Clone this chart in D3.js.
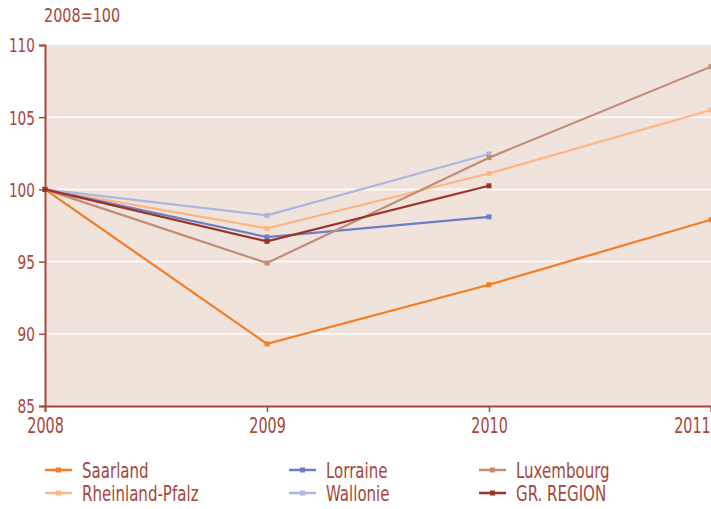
<!DOCTYPE html>
<html>
<head>
<meta charset="utf-8">
<script src="https://cdn.jsdelivr.net/npm/d3@7"></script>
<style>
  body { margin: 0; background: #fff; }
  svg text { font-family: "Liberation Sans Narrow", "DejaVu Sans Condensed", "Roboto Condensed", sans-serif; fill: #a5473b; }
</style>
</head>
<body>
<div id="chart"></div>
<script>
// data (index, 2008 = 100)
const years = [2008, 2009, 2010, 2011];
const yTicks = [85, 90, 95, 100, 105, 110];
const saarland = [100, 89.3, 93.4, 97.9];
const rheinlandPfalz = [100, 97.3, 101.1, 105.5];
const lorraine = [100, 96.7, 98.1];
const wallonie = [100, 98.2, 102.45];
const luxembourg = [100, 94.9, 102.2, 108.5];
const grRegion = [100, 96.4, 100.25];

// series in draw order
const series = [
    { name: "Saarland", values: saarland, color: "#f47c22" },
    { name: "Rheinland-Pfalz", values: rheinlandPfalz, color: "#fbb684" },
    { name: "Lorraine", values: lorraine, color: "#6b7fc3" },
    { name: "Wallonie", values: wallonie, color: "#aeb5e0" },
    { name: "Luxembourg", values: luxembourg, color: "#c28c76" },
    { name: "GR. REGION", values: grRegion, color: "#9b3327" }
];
const legendOrder = ["Saarland", "Lorraine", "Luxembourg", "Rheinland-Pfalz", "Wallonie", "GR. REGION"];

const svgWidth = 711;
const svgHeight = 509;
const margin = { top: 45, right: 0, bottom: 103, left: 45 };
const chartWidth = svgWidth - margin.left - margin.right;
const chartHeight = svgHeight - margin.top - margin.bottom;
const axisColor = "#a5473b";

// squeeze text horizontally to mimic a condensed face
function squeeze(sel, k) {
    sel.each(function () {
        const len = this.getComputedTextLength();
        d3.select(this)
            .attr("textLength", len * k)
            .attr("lengthAdjust", "spacingAndGlyphs");
    });
}

const svg = d3.select("#chart").append("svg")
    .attr("width", svgWidth)
    .attr("height", svgHeight);

const chartG = svg.append("g")
    .attr("transform", `translate(${margin.left}, ${margin.top})`);

const x = d3.scaleLinear().domain([2008, 2011]).range([0, chartWidth]);
const y = d3.scaleLinear().domain([85, 110]).range([chartHeight, 0]);

// background
chartG.append("rect")
    .attr("width", chartWidth)
    .attr("height", chartHeight)
    .attr("fill", "#efe3dc");

// white gridlines
chartG.append("g")
    .selectAll("line")
    .data(yTicks.slice(1, -1))
    .enter()
    .append("line")
    .attr("x1", 0)
    .attr("x2", chartWidth)
    .attr("y1", d => y(d))
    .attr("y2", d => y(d))
    .attr("stroke", "#fff")
    .attr("stroke-width", 1.5);

// axes
const yAxis = d3.axisLeft(y).tickValues(yTicks).tickSize(6).tickPadding(4);
const xAxis = d3.axisBottom(x).tickValues(years).tickFormat(d3.format("d")).tickSize(6).tickPadding(4);

const yG = chartG.append("g").call(yAxis);
const xG = chartG.append("g")
    .attr("transform", `translate(0, ${chartHeight})`)
    .call(xAxis);

[yG, xG].forEach(g => {
    g.select(".domain").attr("stroke", axisColor).attr("stroke-width", 2);
    g.selectAll(".tick line").attr("stroke", axisColor).attr("stroke-width", 1.5);
    g.selectAll(".tick text").attr("fill", axisColor);
});
yG.selectAll(".tick text").style("font-size", "19px").attr("dy", "0.36em");
squeeze(yG.selectAll(".tick text"), 0.8);

// year labels: narrowed with a scale about the tick position
xG.selectAll(".tick text")
    .style("font-size", "21px")
    .attr("dy", "0.82em")
    .attr("transform", "scale(0.76,1)");
// last year label would run off the right edge: right-align it to the tick
xG.selectAll(".tick text").filter(d => d === 2011)
    .attr("text-anchor", "end")
    .attr("x", -1);

// title
svg.append("text")
    .attr("x", 44)
    .attr("y", 22)
    .style("font-size", "20px")
    .text("2008=100")
    .call(squeeze, 0.8);

// lines
const line = d3.line()
    .x((d, i) => x(years[i]))
    .y(d => y(d));

const seriesG = chartG.selectAll(".series")
    .data(series)
    .enter()
    .append("g");

seriesG.append("path")
    .attr("d", d => line(d.values))
    .attr("fill", "none")
    .attr("stroke", d => d.color)
    .attr("stroke-width", 2.2);

seriesG.each(function (s) {
    d3.select(this).selectAll("rect")
        .data(s.values)
        .enter()
        .append("rect")
        .attr("x", (d, i) => x(years[i]) - 2.5)
        .attr("y", d => y(d) - 2.5)
        .attr("width", 5)
        .attr("height", 5)
        .attr("fill", s.color);
});

// legend
const colX = [45, 289, 479];
const rowY = [470, 493];
const legendG = svg.append("g");
legendOrder.forEach((name, i) => {
    const s = series.find(d => d.name === name);
    const gx = colX[i % 3];
    const gy = rowY[Math.floor(i / 3)];
    const item = legendG.append("g").attr("transform", `translate(${gx}, ${gy})`);
    item.append("line")
        .attr("x1", 0).attr("x2", 27)
        .attr("stroke", s.color)
        .attr("stroke-width", 2.5);
    item.append("rect")
        .attr("x", 11).attr("y", -2.5)
        .attr("width", 5).attr("height", 5)
        .attr("fill", s.color);
    item.append("text")
        .attr("x", 37)
        .attr("dy", "0.36em")
        .style("font-size", "22px")
        .text(name)
        .call(squeeze, 0.76);
});
</script>
</body>
</html>
